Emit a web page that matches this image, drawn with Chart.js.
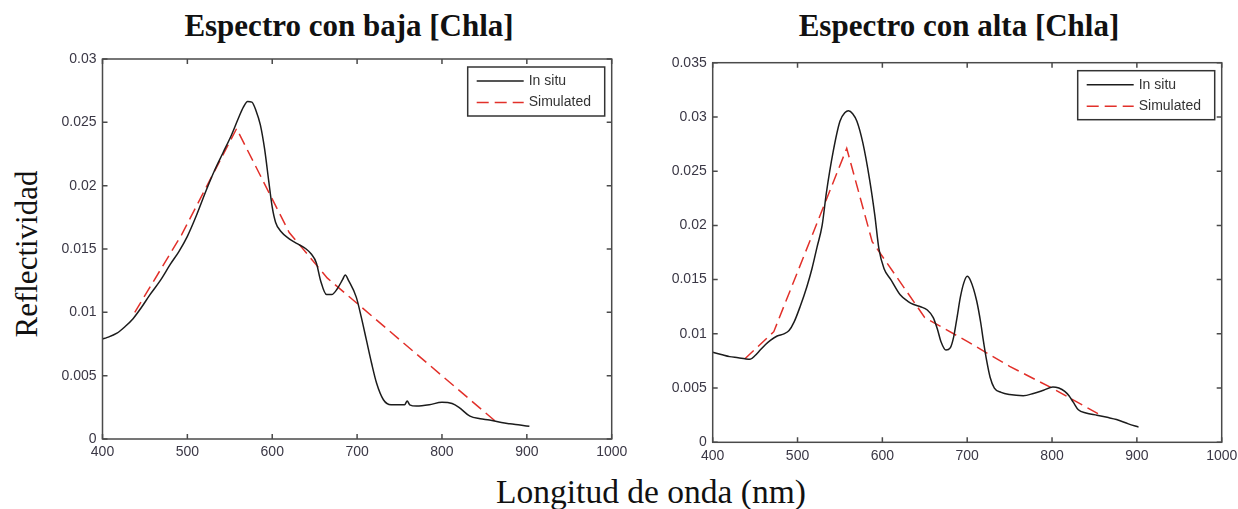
<!DOCTYPE html>
<html>
<head>
<meta charset="utf-8">
<script src="https://cdn.jsdelivr.net/npm/chart.js@4.4.0/dist/chart.umd.min.js"></script>
<style>
  body { margin:0; background:#fff; width:1238px; height:509px; position:relative; overflow:hidden; }
  .t { position:absolute; font-family:"Liberation Serif","Times New Roman",serif; color:#111; white-space:nowrap; line-height:1; }
  .title { font-weight:bold; font-size:31px; top:10px; transform:translateX(-50%); }
  #cvL { position:absolute; left:40px; top:40px; }
  #cvR { position:absolute; left:650px; top:40px; }
</style>
</head>
<body>
<div class="t title" style="left:349px">Espectro con baja [Chla]</div>
<div class="t title" style="left:959px">Espectro con alta [Chla]</div>
<div class="t" style="font-size:31px; left:26px; top:254px; transform:translate(-50%,-50%) rotate(-90deg);">Reflectividad</div>
<div class="t" style="font-size:33.5px; left:651px; top:475px; transform:translateX(-50%);">Longitud de onda (nm)</div>
<canvas id="cvL" width="600" height="430"></canvas>
<canvas id="cvR" width="600" height="432"></canvas>
<script>
// wavelengths (nm) and reflectance, low chlorophyll
const lowInSituNm  = [400,405,417,427,436,446,456,468,480,490,500,511,522,532,542,552,560,566,571,576,581,586,591,596,600,604,610,620,630,640,646,652,657,664,670,677,683,686,690,699,705,711,717,723,731,740,750,756,759,762,770,785,800,812,820,833,845,856,870,880,892,903];
const lowInSituVal = [0.0079,0.0080,0.00835,0.0089,0.0095,0.0104,0.0114,0.0125,0.0138,0.0148,0.0160,0.0177,0.0196,0.0212,0.0226,0.0240,0.0253,0.0262,0.02665,0.0266,0.0259,0.0248,0.0229,0.0203,0.0183,0.0171,0.0164,0.0158,0.0154,0.0150,0.0146,0.0139,0.0125,0.0114,0.0114,0.0119,0.0126,0.01295,0.0125,0.0112,0.0096,0.0078,0.0060,0.0044,0.0031,0.0027,0.0027,0.0027,0.0030,0.0027,0.0026,0.0027,0.0029,0.0028,0.0025,0.0018,0.0016,0.0015,0.0013,0.0012,0.0011,0.0010];
const lowSimNm  = [438,493,558,620,665,863];
const lowSimVal = [0.0100,0.0161,0.0245,0.0163,0.0127,0.0014];

// high chlorophyll
const highInSituNm  = [400,410,420,430,438,444,450,456,462,468,476,484,490,496,503,511,517,523,529,534,542,550,556,560,565,570,577,585,591,596,602,610,621,630,637,645,653,660,665,669,675,680,684,688,692,696,700,704,711,716,719,723,727,732,740,750,766,778,790,801,808,815,820,825,831,840,853,865,876,890,902];
const highInSituVal = [0.0083,0.0081,0.0079,0.0078,0.0077,0.00765,0.0080,0.0085,0.0090,0.0094,0.0098,0.0100,0.0103,0.0111,0.0125,0.01435,0.0160,0.0180,0.0200,0.0230,0.0268,0.0296,0.0304,0.03057,0.0303,0.0296,0.0276,0.0242,0.0210,0.0178,0.0160,0.0150,0.0136,0.0130,0.0127,0.0125,0.0122,0.0115,0.0104,0.0093,0.0085,0.0087,0.0097,0.0115,0.0134,0.0147,0.0153,0.0149,0.0131,0.0110,0.0094,0.0075,0.0060,0.0050,0.0046,0.0044,0.0043,0.0045,0.0048,0.0051,0.0050,0.0047,0.0043,0.0037,0.0030,0.0027,0.0025,0.0023,0.0021,0.0017,0.0014];
const highSimNm  = [438,472,558,588,650,700,750,800,855];
const highSimVal = [0.0077,0.0102,0.0271,0.0185,0.0115,0.0093,0.0070,0.0050,0.0026];

const xTicks = [400,500,600,700,800,900,1000];
const seriesNames = ['In situ','Simulated'];

const BLACK = '#1c1c1c';
const RED = '#e2302a';
const TICK_COLOR = '#3a3745';

function pts(xs, ys) { return xs.map((x, i) => ({x: x, y: ys[i]})); }

const framePlugin = {
  id: 'frame',
  afterDraw(chart) {
    const ctx = chart.ctx, a = chart.chartArea;
    const xs = chart.scales.x, ys = chart.scales.y;
    ctx.save();
    ctx.strokeStyle = '#4a4a4a';
    ctx.lineWidth = 1.5;
    ctx.strokeRect(a.left, a.top, a.right - a.left, a.bottom - a.top);
    ctx.beginPath();
    xs.ticks.forEach(t => {
      const p = xs.getPixelForValue(t.value);
      ctx.moveTo(p, a.bottom); ctx.lineTo(p, a.bottom - 5);
      ctx.moveTo(p, a.top); ctx.lineTo(p, a.top + 5);
    });
    ys.ticks.forEach(t => {
      const p = ys.getPixelForValue(t.value);
      ctx.moveTo(a.left, p); ctx.lineTo(a.left + 5, p);
      ctx.moveTo(a.right, p); ctx.lineTo(a.right - 5, p);
    });
    ctx.stroke();

    // legend box in upper right corner
    const w = 137, h = 49;
    const bx = a.right - 7 - w, by = a.top + 8;
    ctx.fillStyle = '#fff';
    ctx.fillRect(bx, by, w, h);
    ctx.strokeStyle = '#333';
    ctx.lineWidth = 1.5;
    ctx.strokeRect(bx, by, w, h);
    ctx.font = '14px "Liberation Sans", Arial, sans-serif';
    ctx.textBaseline = 'middle';
    chart.data.datasets.forEach((ds, i) => {
      const yy = by + 14 + i * 21.5;
      ctx.strokeStyle = ds.borderColor;
      ctx.lineWidth = 1.5;
      ctx.setLineDash(ds.borderDash || []);
      ctx.beginPath();
      ctx.moveTo(bx + 9, yy); ctx.lineTo(bx + 56, yy);
      ctx.stroke();
      ctx.setLineDash([]);
      ctx.fillStyle = '#333';
      ctx.fillText(ds.label, bx + 61, yy);
    });
    ctx.restore();
  }
};

function makeChart(id, inNm, inVal, simNm, simVal, yMax, yAxisW, xAxisH, pad) {
  return new Chart(document.getElementById(id), {
    type: 'line',
    data: {
      datasets: [{
        label: seriesNames[0],
        data: pts(inNm, inVal),
        borderColor: BLACK,
        borderWidth: 1.5,
        pointRadius: 0,
        cubicInterpolationMode: 'monotone'
      }, {
        label: seriesNames[1],
        data: pts(simNm, simVal),
        borderColor: RED,
        borderWidth: 1.5,
        borderDash: [12, 6],
        pointRadius: 0,
        tension: 0
      }]
    },
    options: {
      responsive: false,
      animation: false,
      layout: { padding: pad },
      plugins: { legend: { display: false }, tooltip: { enabled: false } },
      scales: {
        x: {
          type: 'linear', min: 400, max: 1000,
          afterBuildTicks: s => { s.ticks = xTicks.map(v => ({value: v})); },
          afterFit: s => { s.height = xAxisH; },
          grid: { display: false, drawTicks: false },
          border: { display: false },
          ticks: {
            color: TICK_COLOR, font: { family: 'Liberation Sans', size: 14 }, padding: 5, maxRotation: 0, autoSkip: false,
            callback: v => String(v)
          }
        },
        y: {
          min: 0, max: yMax,
          afterFit: s => { s.width = yAxisW; },
          grid: { display: false, drawTicks: false },
          border: { display: false },
          ticks: {
            stepSize: 0.005, color: TICK_COLOR, font: { family: 'Liberation Sans', size: 14 }, padding: 6,
            callback: v => String(Number(v.toFixed(3)))
          }
        }
      }
    },
    plugins: [framePlugin]
  });
}

makeChart('cvL', lowInSituNm, lowInSituVal, lowSimNm, lowSimVal, 0.03, 62.5, 31, { top: 19, right: 28.3, left: 0, bottom: 0 });
makeChart('cvR', highInSituNm, highInSituVal, highSimNm, highSimVal, 0.035, 62.7, 29.7, { top: 22.7, right: 28.3, left: 0, bottom: 0 });
</script>
</body>
</html>
